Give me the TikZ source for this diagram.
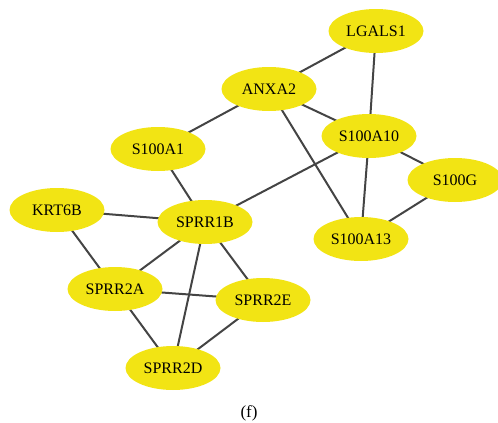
\documentclass[tikz,border=0pt]{standalone}
\usepackage{fontspec}
\setmainfont{Liberation Serif}
\usepackage{tikz}
\usetikzlibrary{shapes.geometric}

\definecolor{geneyellow}{RGB}{242,228,20}
\definecolor{edgegray}{RGB}{68,68,68}

\begin{document}
\begin{tikzpicture}[x=1pt, y=-1pt,
    gene/.style={ellipse, fill=geneyellow, minimum width=95pt, minimum height=44pt,
        inner sep=0pt, font=\fontsize{16}{18}\selectfont},
    link/.style={draw=edgegray, line width=2pt}]
            \useasboundingbox (0, 0) rectangle (498, 423);
            % interactions
            \coordinate (lgals1) at (376, 31);
            \coordinate (anxa2) at (269, 89);
            \coordinate (s100a10) at (369, 136);
            \coordinate (s100a1) at (158, 149);
            \coordinate (s100g) at (455, 180);
            \coordinate (krt6b) at (57, 210);
            \coordinate (sprr1b) at (205, 222);
            \coordinate (s100a13) at (361, 239);
            \coordinate (sprr2a) at (115, 289);
            \coordinate (sprr2e) at (263, 300);
            \coordinate (sprr2d) at (173, 368);
            \draw[link] (lgals1) -- (anxa2);
            \draw[link] (lgals1) -- (s100a10);
            \draw[link] (anxa2) -- (s100a10);
            \draw[link] (anxa2) -- (s100a1);
            \draw[link] (anxa2) -- (s100a13);
            \draw[link] (s100a10) -- (s100g);
            \draw[link] (s100a10) -- (s100a13);
            \draw[link] (s100a10) -- (sprr1b);
            \draw[link] (s100g) -- (s100a13);
            \draw[link] (s100a1) -- (sprr1b);
            \draw[link] (krt6b) -- (sprr1b);
            \draw[link] (krt6b) -- (sprr2a);
            \draw[link] (sprr1b) -- (sprr2a);
            \draw[link] (sprr1b) -- (sprr2e);
            \draw[link] (sprr1b) -- (sprr2d);
            \draw[link] (sprr2a) -- (sprr2e);
            \draw[link] (sprr2a) -- (sprr2d);
            \draw[link] (sprr2e) -- (sprr2d);
            % genes
            \node[gene] (n-lgals1) at (lgals1) {LGALS1};
            \node[gene] (n-anxa2) at (anxa2) {ANXA2};
            \node[gene] (n-s100a10) at (s100a10) {S100A10};
            \node[gene] (n-s100a1) at (s100a1) {S100A1};
            \node[gene] (n-s100g) at (s100g) {S100G};
            \node[gene] (n-krt6b) at (krt6b) {KRT6B};
            \node[gene] (n-sprr1b) at (sprr1b) {SPRR1B};
            \node[gene] (n-s100a13) at (s100a13) {S100A13};
            \node[gene] (n-sprr2a) at (sprr2a) {SPRR2A};
            \node[gene] (n-sprr2e) at (sprr2e) {SPRR2E};
            \node[gene] (n-sprr2d) at (sprr2d) {SPRR2D};
            \node[font=\fontsize{17}{19}\selectfont] (caption) at (249, 413) {(f)};
        \end{tikzpicture}
\end{document}
